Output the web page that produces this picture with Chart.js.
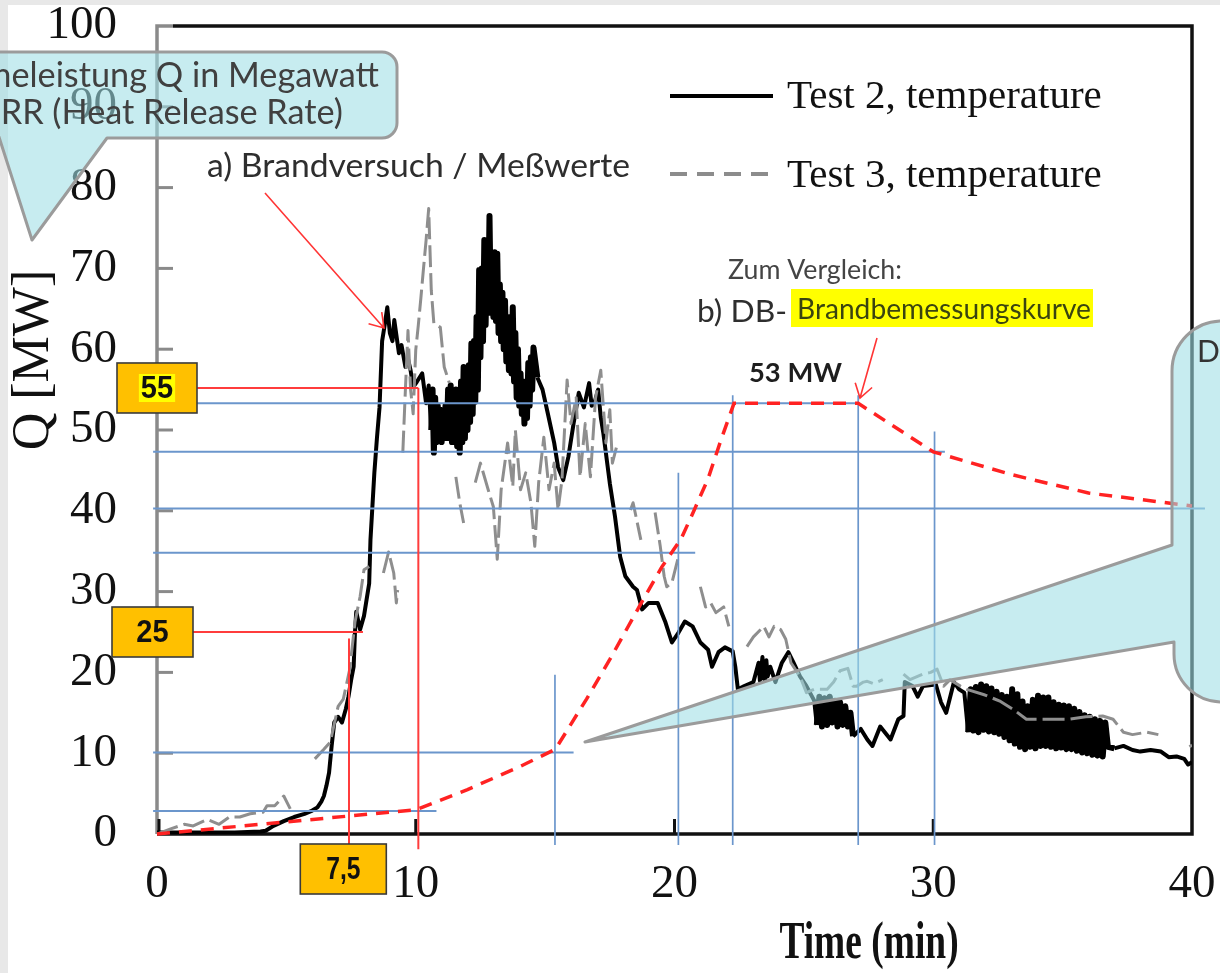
<!DOCTYPE html>
<html><head><meta charset="utf-8">
<script src="https://cdn.jsdelivr.net/npm/chart.js@4.4.1/dist/chart.umd.min.js"></script>
<style>html,body{margin:0;padding:0;background:#fff;overflow:hidden}canvas{display:block}</style>
</head><body><canvas id="c" width="1220" height="973"></canvas>
<script>
// ---------- DATA ----------
const xTickValues = [0,10,20,30,40];
const yTickValues = [0,10,20,30,40,50,60,70,80,90,100];
const seriesNames = ['Test 2, temperature','Test 3, temperature'];

const test2Time = [
 0,1,2,3,4,4.2,4.5,4.9,5.3,5.7,
 6.0,6.2,6.35,6.45,6.55,6.65,6.75,6.85,7.0,7.15,
 7.3,7.4,7.5,7.6,7.65,7.7,7.85,8.0,8.1,8.2,
 8.25,8.4,8.5,8.6,8.7,8.8,8.9,9.0,9.1,9.17,
 9.35,9.45,9.6,9.7,9.8,9.9,10.05,10.25,10.4,10.5,
 10.60,10.65,10.70,10.75,10.80,10.85,10.90,10.95,11.00,11.05,
 11.10,11.15,11.20,11.25,11.30,11.35,11.40,11.45,11.50,11.55,
 11.60,11.65,11.70,11.75,11.80,11.85,11.90,11.95,12.00,12.05,
 12.10,12.15,12.20,12.25,12.30,12.35,12.40,12.45,12.50,12.55,
 12.60,12.65,12.70,12.75,12.80,12.85,12.90,12.95,13.00,13.05,
 13.10,13.15,13.20,13.25,13.30,13.35,13.40,13.45,13.50,13.55,
 13.60,13.65,13.70,13.75,13.80,13.85,13.90,13.95,14.00,14.05,
 14.10,14.15,14.20,14.25,14.30,14.35,14.40,14.45,14.50,14.55,
 14.7,14.9,15.1,15.35,15.5,15.7,
 15.9,16.1,16.3,16.5,16.7,16.8,16.9,17.05,17.15,17.25,
 17.5,17.7,17.9,18.1,18.4,18.55,18.75,19.0,19.35,19.65,
 19.9,20.15,20.4,20.7,21.0,21.3,21.45,21.7,21.95,22.25,
 22.35,22.45,22.7,23.05,23.25,23.3,23.4,23.45,23.5,23.55,
 23.6,23.7,23.9,24.15,24.4,24.6,24.85,25.1,25.4,25.5,
 25.6,25.7,25.8,25.9,26.0,26.1,26.2,26.3,26.4,26.5,
 26.6,26.7,26.8,26.9,27.2,27.45,27.65,27.95,28.35,28.65,
 28.85,28.9,29.2,29.4,29.6,30.1,30.3,30.5,30.8,31.0,
 31.2,
 31.35,31.45,31.55,31.65,31.75,31.85,31.95,32.05,32.15,32.25,
 32.35,32.45,32.55,32.65,32.75,32.85,32.95,33.05,33.15,33.25,
 33.35,33.45,33.55,33.65,33.75,33.85,33.95,34.05,34.15,34.25,
 34.35,34.45,34.55,34.65,34.75,34.85,34.95,35.05,35.15,35.25,
 35.35,35.45,35.55,35.65,35.75,35.85,35.95,36.05,36.15,36.25,
 36.35,36.45,36.55,36.65,36.75,
 37.0,37.35,37.7,38.0,38.4,38.8,39.1,39.4,39.7,39.85,40.0
];
const test2Q = [
 0.2,0.2,0.2,0.2,0.3,0.4,1.0,1.6,2.1,2.5,
 2.9,3.3,4.0,4.7,6.0,7.6,10.9,13.8,14.5,13.8,
 15.5,17,19,20.7,24.9,27.5,25.3,27,29,31,
 36.4,44.7,49,52.8,61,63,65.2,62,61,63.6,
 59.5,60.5,57.8,58.8,57.4,55.3,56,57,53.3,55.5,
 50,55,47.2,54,48.5,53,49,52.5,48.5,52,
 49.5,53,49,55,50,55.5,48.5,54,49.5,55,
 48,54.5,47.2,56,48.5,57.8,49,57,50,58,
 51,60.7,52,61,53.5,64,55,69.8,59,70,
 61,73.5,63,72,64.5,76.5,65,71,64,72,
 63.5,71.8,62,68,61,67,60,66,58.5,63,
 57.4,64,57,65.2,56,62,54,60,53,57,
 52,56,50.8,55,51.5,58.3,53,59,55,60.2,
 56.5,55,52.1,48.4,45.4,43.8,
 46.7,50.8,54.6,52.8,55.8,53,53.3,55,51.6,49.6,
 43.4,39.3,34.3,31.9,30.6,30.2,27.8,28.6,28.6,26.2,
 23.7,24.9,26.3,25.7,23.7,22.8,20.7,22.5,23.1,22.6,
 20.7,17.9,18.3,18.8,21.2,19,21.9,19.2,19.1,21.5,
 19.5,20.7,18.8,21.2,22.5,21.2,19.5,18.3,16.5,13.5,
 17,13.3,16.8,13.5,17,13.8,16.5,13.3,16.3,13.5,
 15.8,13.3,15,12.1,13.0,11.7,10.9,13.3,11.7,14.2,
 14.6,18.8,18.3,17,18.3,18.5,16.3,15,18.8,17.9,
 17.5,
 12.6,17.9,12.8,18.2,12.6,18.5,12.9,18.3,12.7,18,
 12.6,17.6,12.4,17.2,12,17,11.6,17.9,11.2,17.3,
 10.8,16.4,10.5,15.8,10.8,16.6,10.6,17.1,10.9,16.9,
 10.9,16.9,10.8,16.3,10.6,16,10.7,15.9,10.5,15.8,
 10.5,15.5,10.3,15.1,10.1,14.7,10,14.5,9.8,14.2,
 9.7,14,9.6,13.8,10.8,
 10.6,10.9,10.4,10.2,10.4,10.2,9.5,9.6,9.3,8.6,8.9
];

const test3Time = [
 0,0.5,1.05,1.4,1.95,2.4,2.8,3.2,3.6,4.1,
 4.25,4.55,4.9,5.15,5.6,6.1,6.45,6.7,7.0,7.2,
 7.45,7.65,7.85,8.0,8.2,8.5,8.75,8.95,9.15,9.25,
 9.3,9.4,9.5,9.6,9.7,9.8,9.9,10.0,10.1,10.2,
 10.3,10.4,10.5,10.6,10.7,10.95,11.1,11.3,11.45,11.55,
 11.7,11.85,12.1,12.3,12.5,12.8,13.0,13.15,13.3,13.55,
 13.75,13.85,14.05,14.25,14.45,14.6,14.75,14.95,15.15,15.35,
 15.5,15.65,15.85,16.0,16.2,16.35,16.55,16.75,16.95,17.15,
 17.35,17.5,17.6,17.8,18.05,18.3,18.4,18.7,19.0,19.25,
 19.45,19.6,19.7,19.9,20.15,20.6,21.0,21.2,21.4,21.6,
 21.9,22.1,22.5,22.8,23.05,23.45,23.65,23.85,24.1,24.3,
 24.5,24.85,25.1,25.4,25.9,26.15,26.4,26.7,26.9,27.05,
 27.3,27.45,27.7,28.05,28.4,28.85,29.1,29.6,29.9,30.15,
 30.4,30.65,31.05,31.3,32.0,32.6,33.1,33.6,34.4,35.2,
 35.9,36.55,36.95,37.35,37.7,38.25,38.7,39.2,39.9,40
];
const test3Q = [
 0,0.6,1.2,1.0,1.8,1.2,2.1,2.1,2.5,2.7,
 3.5,3.5,4.7,3.1,null,9.3,10.5,11.4,15.8,16.7,
 20.4,26.2,29.4,32.7,33.1,null,32.3,34.9,32.3,28.6,
 30.2,null,47.2,55,62.3,55,52,59.9,63,66.4,
 70,73.5,77.4,67.3,63.2,62.7,57.8,55.8,null,44.2,
 41,38.5,null,43.5,45.9,42.6,40.5,34,42.6,48.4,
 43,50,42.6,44.7,41,35.6,43.5,49.1,42.6,45.9,
 40.1,43.8,56.2,50.8,54,44.2,50.8,44.2,54,57.4,
 48.4,52.5,45.9,48.4,null,40.1,41,36.4,null,39.8,
 35.6,31.9,30.6,31.1,34.3,null,30.6,28.1,28.6,27.4,
 28.1,25.7,null,23.2,24.4,25.7,24.4,25.7,25.3,24.1,
 21.2,19.5,17.5,17.9,17.9,18.8,20.2,20.5,18.3,18.3,
 18.8,18.9,18.6,19.1,null,19.8,19.1,19.8,20,20.4,
 18.3,19.1,18.3,17.9,17.2,16.4,15.4,14.2,14.2,14.2,
 14.5,14.6,14.2,12.6,12.3,12.6,12.3,null,10.8,11
];

// DB design fire curve (red dashed)
const designTime = [0,10,12,14,15.4,16.6,17.5,18.7,19.5,20.25,20.75,21.3,21.8,22.3,27.1,30,33,36,40];
const designQ    = [0,3,5.5,8.3,10.5,16.7,21.6,28.5,33,36.5,40,44,48.8,53.3,53.3,47.3,44.5,42.2,40.6];

// blue construction lines (data units)
const refHQ     = [53.3,47.3,40.3,34.8,10.1,2.85];
const refHStart = -0.15;
const refHEnd   = [27.1,30.45,40.5,20.8,16.1,10.8];
const refVTime  = [15.38,20.15,22.25,27.1,30.05];
const refVTop   = [19.7,44.7,54.3,54.3,49.8];
const refVBottom = -1.36;

// red read-off lines (data units)
const markQ      = [55.2,25.0];
const markTime   = [10.1,7.42];
const markHStart = [1.55,1.39];
const markHEnd   = [10.1,7.96];
const markVTop   = [55.2,24.2];
const markBottom = -1.9;
const markLabels = ['55','25','7,5'];
const peakLabel  = '53 MW';

// ---------- CHART ----------
const W = 1220, H = 973;
const pts = (ts, qs) => ts.map((t, i) => ({x: t, y: qs[i]}));
const seg = (x0, y0, x1, y1) => [{x: x0, y: y0}, {x: x1, y: y1}];
const mkRef = (data, color, w, order) => ({label: '', data, borderColor: color, borderWidth: w, pointRadius: 0, clip: false, order, fill: false, tension: 0});
// time windows where the measured trace oscillates so fast that it prints as a solid band
const inDenseBand = x => (x >= 25.45 && x < 26.85) || (x >= 31.3 && x < 36.8) || (x >= 10.55 && x < 14.6);

const datasets = [];
datasets.push({label: seriesNames[0], data: pts(test2Time, test2Q), borderColor: '#000', borderWidth: 4, pointRadius: 0, order: 5, borderJoinStyle: 'round', tension: 0,
  segment: {borderWidth: ctx => inDenseBand(ctx.p0.parsed.x) ? 6 : undefined}});
datasets.push({label: seriesNames[1], data: pts(test3Time, test3Q), borderColor: '#8e8e8e', borderWidth: 3, borderDash: [22, 6], pointRadius: 0, order: 4, spanGaps: false, borderJoinStyle: 'round', tension: 0});
refHQ.forEach((q, i) => datasets.push(mkRef(seg(refHStart, q, refHEnd[i], q), '#6b96cc', 2, 3)));
refVTime.forEach((t, i) => datasets.push(mkRef(seg(t, refVBottom, t, refVTop[i]), '#6b96cc', 1.7, 3)));
markQ.forEach((q, i) => {
  datasets.push(mkRef(seg(markHStart[i], q, markHEnd[i], q), '#ff3c3c', 2, 2));
  datasets.push(mkRef(seg(markTime[i], markBottom, markTime[i], markVTop[i]), '#ff3c3c', 2, 2));
});
datasets.push({label: 'DB', data: pts(designTime, designQ), borderColor: '#ff2222', borderWidth: 3.5, borderDash: [13, 9], pointRadius: 0, order: 1, clip: false, tension: 0});

function fitText(c, txt, x, cy, w, weight, family, color, align) {
  c.font = `${weight} 100px ${family}`;
  const m = c.measureText(txt).width;
  const size = 100 * w / m;
  c.font = `${weight} ${size}px ${family}`;
  c.fillStyle = color; c.textBaseline = 'middle'; c.textAlign = align || 'left';
  c.fillText(txt, x, cy);
  return size;
}
function arrow(c, x0, y0, x1, y1) {
  const a = Math.atan2(y1 - y0, x1 - x0), L = 16, s = 0.58;
  c.beginPath(); c.moveTo(x0, y0); c.lineTo(x1, y1);
  c.moveTo(x1 - L * Math.cos(a - s), y1 - L * Math.sin(a - s)); c.lineTo(x1, y1);
  c.lineTo(x1 - L * Math.cos(a + s), y1 - L * Math.sin(a + s));
  c.stroke();
}
function orangeBox(c, x0, y0, x1, y1, txt, hl) {
  c.fillStyle = '#ffc000'; c.fillRect(x0, y0, x1 - x0, y1 - y0);
  c.strokeStyle = '#3a3a3a'; c.lineWidth = 1.6; c.strokeRect(x0, y0, x1 - x0, y1 - y0);
  c.font = "bold 29px 'Liberation Sans'";
  const w = c.measureText(txt).width, cx = (x0 + x1) / 2, cy = (y0 + y1) / 2;
  if (hl) { c.fillStyle = '#ffff00'; c.fillRect(cx - w / 2 - 2, cy - 14, w + 4, 28); }
  c.fillStyle = '#111'; c.textAlign = 'center'; c.textBaseline = 'middle';
  c.save(); c.translate(cx, cy + 1); c.scale(txt.length > 2 ? 0.85 : 1, 1.1); c.fillText(txt, 0, 0); c.restore();
}
const CALLOUT_FILL = 'rgba(158,222,229,0.58)';

const overlay = {
  id: 'overlay',
  beforeDraw(chart) {
    const c = chart.ctx; c.save();
    c.fillStyle = '#fff'; c.fillRect(0, 0, W, H);
    c.fillStyle = '#e8e8e8'; c.fillRect(0, 0, 8, H); c.fillRect(0, 0, W, 5);
    c.restore();
  },
  beforeDatasetsDraw(chart) {
    const c = chart.ctx, a = chart.chartArea, xs = chart.scales.x, ys = chart.scales.y;
    c.save(); c.setLineDash([]); c.lineCap = 'butt';
    c.strokeStyle = '#111'; c.lineWidth = 3.5;
    c.beginPath(); c.moveTo(173, a.top); c.lineTo(a.right, a.top); c.lineTo(a.right, a.bottom); c.lineTo(a.left, a.bottom); c.stroke();
    c.strokeStyle = '#8a8a8a'; c.lineWidth = 3.5;
    c.beginPath(); c.moveTo(173, a.top); c.lineTo(a.left, a.top); c.lineTo(a.left, a.bottom); c.stroke();
    c.lineWidth = 3; c.strokeStyle = '#8a8a8a';
    yTickValues.slice(1, -1).forEach(v => { const y = ys.getPixelForValue(v); c.beginPath(); c.moveTo(a.left, y); c.lineTo(a.left + 16, y); c.stroke(); });
    c.strokeStyle = '#111';
    xTickValues.slice(0, -1).forEach(v => { const x = xs.getPixelForValue(v) + (v === 0 ? 2 : 0); c.beginPath(); c.moveTo(x, a.bottom); c.lineTo(x, a.bottom - 15); c.stroke(); });
    c.restore();
  },
  afterDraw(chart) {
    const c = chart.ctx, xs = chart.scales.x, ys = chart.scales.y;
    c.save(); c.setLineDash([]);
    // axis titles
    c.fillStyle = '#111'; c.textAlign = 'center'; c.textBaseline = 'middle';
    c.save(); c.translate(34, 360); c.rotate(-Math.PI / 2);
    c.font = "52px 'Liberation Serif'"; c.fillText('Q [MW]', 0, 0); c.restore();
    c.save(); c.translate(869, 945); c.scale(0.72, 1);
    c.font = "bold 52px 'Liberation Serif'"; c.fillText('Time (min)', 0, 0); c.restore();
    // legend
    c.lineCap = 'butt';
    c.strokeStyle = '#000'; c.lineWidth = 4;
    c.beginPath(); c.moveTo(670, 96); c.lineTo(773, 96); c.stroke();
    c.strokeStyle = '#8c8c8c'; c.setLineDash([17, 10]);
    c.beginPath(); c.moveTo(670, 174); c.lineTo(768, 174); c.stroke();
    c.setLineDash([]);
    c.font = "41px 'Liberation Serif'"; c.fillStyle = '#111'; c.textAlign = 'left'; c.textBaseline = 'middle';
    c.fillText(seriesNames[0], 787, 97); c.fillText(seriesNames[1], 787, 176);
    // annotation texts
    fitText(c, 'a) Brandversuch / Meßwerte', 207, 166, 423, 'normal', 'Lato', '#2e2e2e');
    fitText(c, 'Zum Vergleich:', 728, 270, 174, 'normal', 'Lato', '#444');
    fitText(c, 'b) DB-', 697, 312, 90, 'normal', 'Lato', '#2e2e2e');
    c.fillStyle = '#ffff00'; c.fillRect(791, 289, 302, 38);
    fitText(c, 'Brandbemessungskurve', 797, 310, 294, 'normal', 'Lato', '#3a4410');
    fitText(c, peakLabel, 749, 373, 93, 'bold', 'Lato', '#1e1e1e');
    // red arrows
    c.strokeStyle = '#ff3535'; c.lineWidth = 1.6;
    arrow(c, 265, 193, 384, 328);
    arrow(c, 877, 338, 860, 398);
    // orange value boxes
    const y55 = ys.getPixelForValue(markQ[0]), y25 = ys.getPixelForValue(markQ[1]);
    orangeBox(c, 117, y55 - 25, 197, y55 + 25, markLabels[0], true);
    orangeBox(c, 112, y25 - 25, 193, y25 + 25, markLabels[1], false);
    const x75 = xs.getPixelForValue(7.2);
    orangeBox(c, x75 - 43, 844, x75 + 43, 894, markLabels[2], false);
    // top-left callout
    c.beginPath();
    c.moveTo(-20, 52); c.lineTo(382, 52); c.arcTo(397, 52, 397, 67, 15); c.lineTo(397, 123);
    c.arcTo(397, 138, 382, 138, 15); c.lineTo(107, 138); c.lineTo(32, 240); c.lineTo(-1, 137); c.lineTo(-20, 137); c.closePath();
    c.fillStyle = CALLOUT_FILL; c.fill();
    c.strokeStyle = '#9b9b9b'; c.lineWidth = 3; c.lineJoin = 'round'; c.stroke();
    c.font = '100px Lato'; const mw = c.measureText('Megawatt').width; const fs = 100 * 151 / mw;
    c.font = `${fs}px Lato`; c.fillStyle = '#404040'; c.textAlign = 'right'; c.textBaseline = 'middle';
    c.fillText('Wärmeleistung Q in Megawatt', 379, 76);
    c.fillText('HRR (Heat Release Rate)', 343, 113);
    // right callout
    c.beginPath();
    c.moveTo(1172, 545); c.lineTo(585, 742); c.lineTo(1174, 642);
    c.arcTo(1174, 702, 1224, 702, 48); c.lineTo(1250, 702); c.lineTo(1250, 321); c.lineTo(1222, 321);
    c.arcTo(1172, 321, 1172, 371, 50); c.closePath();
    c.fillStyle = CALLOUT_FILL; c.fill();
    c.strokeStyle = '#9b9b9b'; c.lineWidth = 3; c.stroke();
    c.font = '30px Lato'; c.fillStyle = '#333'; c.textAlign = 'left'; c.textBaseline = 'middle';
    c.fillText('Die', 1197, 352);
    c.restore();
  }
};

new Chart(document.getElementById('c'), {
  type: 'line',
  data: {datasets},
  options: {
    responsive: false, animation: false, events: [],
    layout: {padding: {left: 0, right: 28, top: 26, bottom: 0}},
    plugins: {legend: {display: false}, tooltip: {enabled: false}},
    scales: {
      x: {
        type: 'linear', min: 0, max: 40,
        afterBuildTicks: s => { s.ticks = xTickValues.map(v => ({value: v})); },
        afterFit: s => { s.height = 139; s.paddingLeft = 0; s.paddingRight = 0; },
        grid: {display: false, drawTicks: false}, border: {display: false},
        ticks: {padding: 22, color: '#111', maxRotation: 0, autoSkip: false, font: {family: "'Liberation Serif'", size: 47}}
      },
      y: {
        type: 'linear', min: 0, max: 100,
        afterBuildTicks: s => { s.ticks = yTickValues.map(v => ({value: v})); },
        afterFit: s => { s.width = 157; s.paddingTop = 0; s.paddingBottom = 0; },
        grid: {display: false, drawTicks: false}, border: {display: false},
        ticks: {padding: 40, color: '#111', autoSkip: false, font: {family: "'Liberation Serif'", size: 47, lineHeight: 1}}
      }
    }
  },
  plugins: [overlay]
});
</script>
</body></html>
